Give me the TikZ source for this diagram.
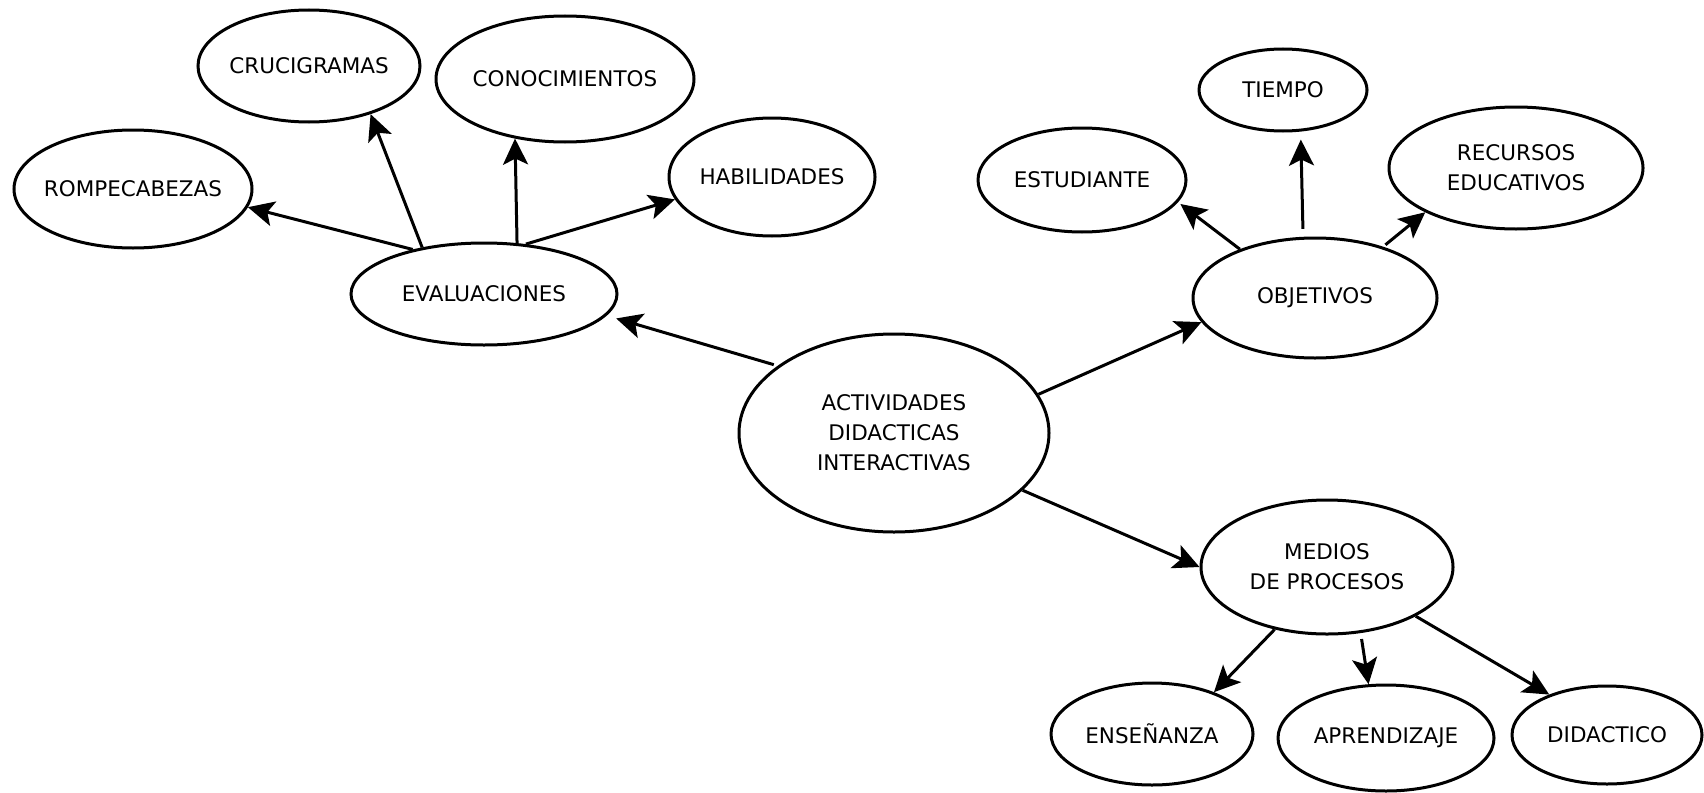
\documentclass[tikz,border=0pt]{standalone}
\usepackage{fontspec}
\setmainfont{DejaVu Sans}
\usetikzlibrary{arrows.meta,positioning,shapes.geometric}

\begin{document}
\begin{tikzpicture}[
    x=1pt, y=-1pt,
    on grid,
    font=\fontsize{21.5}{30}\selectfont,
    % elipses del mapa
    bubble/.style={
        ellipse,
        draw=black,
        line width=3pt,
        inner xsep=-12pt, inner ysep=0pt,
        align=center,
        text=black
    },
    % flechas (punta rellena)
    arrow/.style={
        -{Stealth[length=26pt, width=25pt, inset=6pt]},
        draw=black,
        line width=3pt
    }
]
    \useasboundingbox (0,0) rectangle (1704,792);

    % --- 1. nodo central ---
    \node[bubble, minimum width=310pt, minimum height=198pt] (act) at (894,433) {ACTIVIDADES\\DIDACTICAS\\INTERACTIVAS};

    % --- 2. rama izquierda: evaluaciones ---
    \node[bubble, minimum width=266pt, minimum height=102pt, above left=139pt and 410pt of act] (eval) {EVALUACIONES};
    \node[bubble, minimum width=238pt, minimum height=118pt, above left=105pt and 351pt of eval] (romp) {ROMPECABEZAS};
    \node[bubble, minimum width=222pt, minimum height=112pt, above left=228pt and 175pt of eval] (cruc) {CRUCIGRAMAS};
    \node[bubble, minimum width=258pt, minimum height=126pt, above right=215pt and 81pt of eval] (cono) {CONOCIMIENTOS};
    \node[bubble, minimum width=206pt, minimum height=118pt, above right=117pt and 288pt of eval] (habi) {HABILIDADES};

    % --- 3. rama derecha: objetivos ---
    \node[bubble, minimum width=244pt, minimum height=120pt, above right=135pt and 421pt of act] (obj) {OBJETIVOS};
    \node[bubble, minimum width=208pt, minimum height=104pt, above left=118pt and 233pt of obj] (estu) {ESTUDIANTE};
    \node[bubble, minimum width=168pt, minimum height=82pt, above left=208pt and 32pt of obj] (tiempo) {TIEMPO};
    \node[bubble, minimum width=254pt, minimum height=122pt, above right=130pt and 201pt of obj] (recu) {RECURSOS\\EDUCATIVOS};

    % --- 4. rama inferior: medios ---
    \node[bubble, minimum width=252pt, minimum height=134pt, below right=134pt and 433pt of act] (medios) {MEDIOS\\DE PROCESOS};
    \node[bubble, minimum width=202pt, minimum height=102pt, below left=167pt and 175pt of medios] (ensen) {ENSEÑANZA};
    \node[bubble, minimum width=216pt, minimum height=106pt, below right=171pt and 59pt of medios] (apren) {APRENDIZAJE};
    \node[bubble, minimum width=190pt, minimum height=98pt, below right=168pt and 280pt of medios] (didac) {DIDACTICO};

    % flechas
    \draw[arrow, shorten <=4pt, shorten >=10pt] (act.150) -- (eval.-10);
    \draw[arrow] (eval.148) -- (romp.-9);
    \draw[arrow] (eval.143) -- (cruc.-38);
    \draw[arrow] (eval.57) -- (cono.230);
    \draw[arrow] (eval.50) -- (habi.193);

    \draw[arrow] (act.15) -- (obj.192);
    \draw[arrow, shorten >=3pt] (obj.147) -- (estu.-13);
    \draw[arrow, shorten <=8pt, shorten >=8pt] (obj.101) -- (tiempo.-67);
    \draw[arrow, shorten <=3pt] (obj.37) -- (recu.206);

    \draw[arrow] (act.-24) -- (medios.180);
    \draw[arrow] (medios.230) -- (ensen.34);
    \draw[arrow, shorten <=6pt] (medios.-63) -- (apren.108);
    \draw[arrow] (medios.-29) -- (didac.145);

\end{tikzpicture}
\end{document}
